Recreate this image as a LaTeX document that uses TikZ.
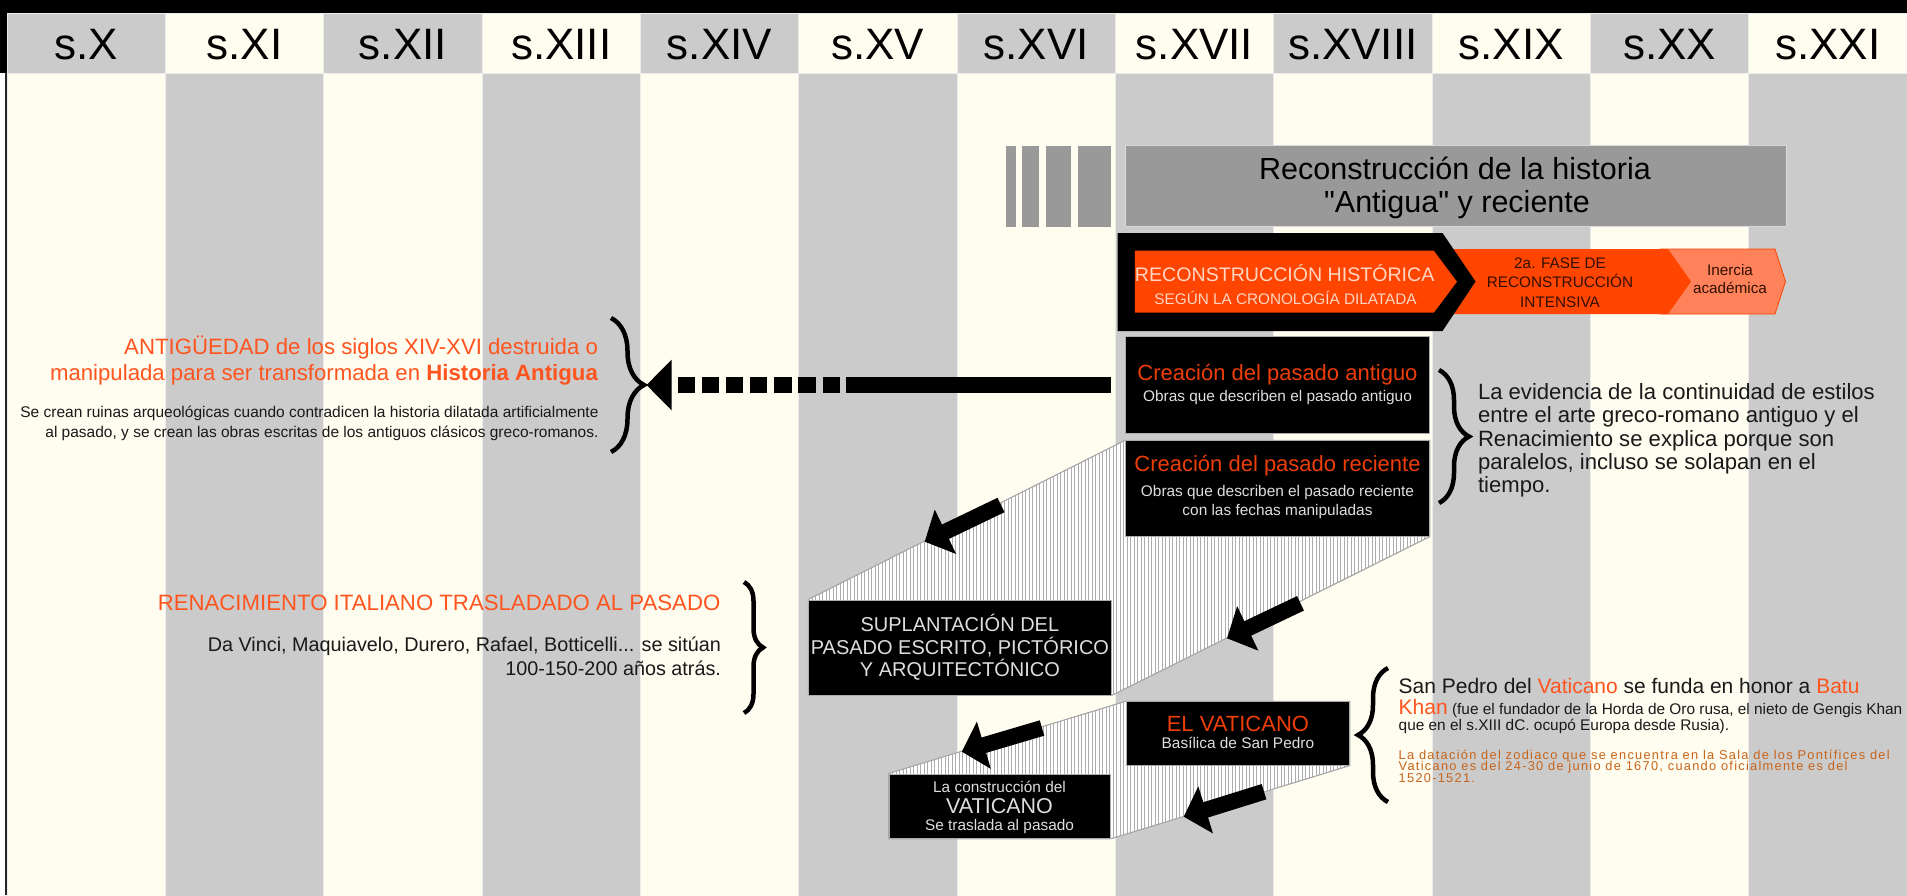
\documentclass[tikz,border=0pt]{standalone}
\usepackage{fontspec}
\setmainfont{Liberation Sans}[Ligatures=TeXOff]
\newfontfamily\spaced{Liberation Sans}[Ligatures=TeXOff,LetterSpace=10]
\usetikzlibrary{decorations.pathreplacing,arrows.meta,patterns.meta,calc}
\definecolor{cgrey}{RGB}{203,203,203}
\definecolor{ccream}{RGB}{255,252,240}
\definecolor{csep}{RGB}{236,236,236}
\definecolor{cbar}{RGB}{153,153,153}
\definecolor{corange}{RGB}{255,69,0}
\definecolor{clight}{RGB}{255,130,90}
\definecolor{cred}{RGB}{238,62,8}
\definecolor{ctext}{RGB}{255,84,30}
\definecolor{cpink}{RGB}{255,214,196}
\definecolor{cbrown}{RGB}{200,100,25}
\definecolor{csub}{RGB}{222,222,222}
\definecolor{cdark}{RGB}{25,25,25}
\definecolor{cmaroon}{RGB}{50,15,0}
\newcommand\fsz[1]{\fontsize{#1}{#1}\selectfont}
\begin{document}
\begin{tikzpicture}[x=1pt,y=-1pt,
  tx/.style={inner sep=0pt,outer sep=0pt,anchor=base},
  txl/.style={tx,anchor=base west},
  txr/.style={tx,anchor=base east},
  blackbox/.style={fill=black,draw=gray!65,line width=1pt,inner sep=0pt},
  band/.style={fill=white,draw=gray!70,line width=0.8pt},
  hatch/.style={pattern={Lines[angle=90,distance=3.5pt,line width=0.6pt]},pattern color=gray!65},
  bigarrow/.style={line width=16pt,-{Triangle[length=23pt,width=48pt]}},
  brc/.style={decorate,decoration={brace,amplitude=#1},line width=4.5pt},
  greybar/.style={fill=cbar,draw=gray!30,line width=0.8pt,inner sep=0pt},
]
\useasboundingbox (0,0) rectangle (1907,895);
% ---------- frame and columns
\fill[black] (0,0) rectangle (1907,13);
\fill[black] (0,13) rectangle (7,73);
\fill[white] (0,73) rectangle (7,895);
\foreach \lab [count=\i from 0] in {X,XI,XII,XIII,XIV,XV,XVI,XVII,XVIII,XIX,XX,XXI}{
  \pgfmathsetmacro\xa{7+158.333*\i}
  \pgfmathsetmacro\xb{\xa+158.333}
  \pgfmathsetmacro\xc{\xa+79.167}
  \ifodd\i\relax
    \def\hc{ccream}\def\bc{cgrey}
  \else
    \def\hc{cgrey}\def\bc{ccream}
  \fi
  \path[fill=\hc,draw=csep,line width=1pt] (\xa,13) rectangle (\xb,73);
  \path[fill=\bc,draw=csep,line width=1pt] (\xa,73) rectangle (\xb,896);
  \node[tx,font=\fsz{44}] (h\i) at (\xc,59) {s.\lab};
}
\draw[line width=2pt,black!85] (6,73) -- (6,895);
% ---------- grey title bar
\fill[cbar] (1006,145.7) rectangle (1016,226.7);
\fill[cbar] (1022,145.7) rectangle (1039,226.7);
\fill[cbar] (1046,145.7) rectangle (1071,226.7);
\fill[cbar] (1078,145.7) rectangle (1111,226.7);
\node[greybar,minimum width=661pt,minimum height=81pt] (bar) at (1456,186.2) {};
\node[tx,font=\fsz{30.5}] (bar1) at (1455,179.5) {Reconstrucción de la historia};
\node[tx,font=\fsz{30.5}] (bar2) at (1457,212) {"Antigua" y reciente};
% ---------- chevrons
\filldraw[fill=clight,draw=corange,line width=0.8pt] (1660,249) -- (1775,249) -- (1785.5,281.5) -- (1775,314) -- (1660,314) -- cycle;
\fill[corange] (1440,249) -- (1668,249) -- (1691,281.5) -- (1668,314) -- (1440,314) -- cycle;
\fill[black] (1117.7,233) -- (1442.5,233) -- (1475.5,281.5) -- (1442.5,331) -- (1117.7,331) -- cycle;
\fill[corange] (1134.8,250.7) -- (1433.8,250.7) -- (1457,281.7) -- (1433.8,312.7) -- (1134.8,312.7) -- cycle;
\node[tx,font=\fsz{19.6},text=cpink] (rh1) at (1284.7,281.7) {RECONSTRUCCIÓN HISTÓRICA};
\node[tx,font=\fsz{15.3},text=cpink] (rh2) at (1285.5,304) {SEGÚN LA CRONOLOGÍA DILATADA};
\node[tx,font=\fsz{15.3},text=cmaroon] (fa1) at (1560,268) {2a. FASE DE};
\node[tx,font=\fsz{15.3},text=cmaroon] (fa2) at (1560,287.5) {RECONSTRUCCIÓN};
\node[tx,font=\fsz{15.3},text=cmaroon] (fa3) at (1560,307) {INTENSIVA};
\node[tx,font=\fsz{15.3},text=cmaroon] (in1) at (1730,275) {Inercia};
\node[tx,font=\fsz{15.3},text=cmaroon] (in2) at (1730,293.3) {académica};
% ---------- boxes (placed first to name them)
\node[blackbox,minimum width=303.7pt,minimum height=96.6pt] (antiguo) at (1277.5,385) {};
\node[blackbox,minimum width=303.7pt,minimum height=95.3pt] (reciente) at (1277.5,488.4) {};
\node[blackbox,minimum width=302.3pt,minimum height=95pt] (supl) at (959.9,647.5) {};
\node[blackbox,minimum width=223.2pt,minimum height=63.3pt] (vatic) at (1237.9,733.4) {};
\node[blackbox,minimum width=221pt,minimum height=64.3pt] (constr) at (999.5,806.2) {};
% ---------- hatched bands (swept between the boxes)
\path[band,postaction={hatch}] (reciente.north west) -- (reciente.north east) -- (reciente.south east) -- (supl.south east) -- (supl.south west) -- (supl.north west) -- cycle;
\path[band,postaction={hatch}] (vatic.north west) -- (vatic.north east) -- (vatic.south east) -- (constr.south east) -- (constr.south west) -- (constr.north west) -- cycle;
\draw[gray!70,line width=0.8pt] (reciente.north west) -- (supl.north west);
\draw[gray!70,line width=0.8pt] (reciente.south east) -- (supl.south east);
\draw[gray!70,line width=0.8pt] (vatic.north west) -- (constr.north west);
\draw[gray!70,line width=0.8pt] (vatic.south east) -- (constr.south east);
% boxes again over the bands
\node[blackbox,minimum width=303.7pt,minimum height=95.3pt] (reciente2) at (reciente.center) {};
\node[blackbox,minimum width=302.3pt,minimum height=95pt] (supl2) at (supl.center) {};
\node[blackbox,minimum width=223.2pt,minimum height=63.3pt] (vatic2) at (vatic.center) {};
\node[blackbox,minimum width=221pt,minimum height=64.3pt] (constr2) at (constr.center) {};
% ---------- box texts
\node[tx,font=\fsz{22},text=cred] (an1) at (1277.5,380) {Creación del pasado antiguo};
\node[tx,font=\fsz{15.4},text=csub] (an2) at (1277.5,401) {Obras que describen el pasado antiguo};
\node[tx,font=\fsz{22},text=cred] (re1) at (1277.5,471.7) {Creación del pasado reciente};
\node[tx,font=\fsz{15.4},text=csub] (re2) at (1277.5,496.7) {Obras que describen el pasado reciente};
\node[tx,font=\fsz{15.4},text=csub] (re3) at (1277.5,515) {con las fechas manipuladas};
\node[tx,font=\fsz{20},text=csub] (su1) at (959.9,631.7) {SUPLANTACIÓN DEL};
\node[tx,font=\fsz{20},text=csub] (su2) at (959.9,654.3) {PASADO ESCRITO, PICTÓRICO};
\node[tx,font=\fsz{20},text=csub] (su3) at (959.9,676) {Y ARQUITECTÓNICO};
\node[tx,font=\fsz{22},text=cred] (va1) at (1237.9,731.7) {EL VATICANO};
\node[tx,font=\fsz{15.4},text=csub] (va2) at (1237.9,748.3) {Basílica de San Pedro};
\node[tx,font=\fsz{15.4},text=csub] (co1) at (999.5,792.7) {La construcción del};
\node[tx,font=\fsz{21.5},text=csub] (co2) at (999.5,813.3) {VATICANO};
\node[tx,font=\fsz{15.4},text=csub] (co3) at (999.5,830) {Se traslada al pasado};
% ---------- big arrows
\coordinate (a1s) at (1001,505);   \coordinate (a1e) at (924.7,541.7);
\coordinate (a2s) at (1300.5,603.3); \coordinate (a2e) at (1227,638.3);
\coordinate (a3s) at (1042,728);   \coordinate (a3e) at (961.8,751.7);
\coordinate (a4s) at (1264,791.7); \coordinate (a4e) at (1183.7,816.7);
\draw[bigarrow] (a1s) -- (a1e);
\draw[bigarrow] (a2s) -- (a2e);
\draw[bigarrow] (a3s) -- (a3e);
\draw[bigarrow] (a4s) -- (a4e);
% ---------- dashed arrow to the left brace
\coordinate (dstart) at ($(antiguo.west)+(-14,0)$);
\coordinate (b1tip) at (646.5,385);
\draw[line width=16.6pt,dash pattern=on 265.4pt off 6pt on 17.2pt off 6.9pt on 17.2pt off 6.9pt on 17.2pt off 6.9pt on 17.2pt off 6.9pt on 17.2pt off 6.9pt on 17.2pt off 6.9pt on 17.2pt off 60pt,-{Triangle[length=25pt,width=49pt]}] (dstart) -- (b1tip);
% ---------- braces
\draw[brc=33] (611,318) -- (611,452);
\draw[brc=30] (1439,370) -- (1439,503);
\draw[brc=19] (744,582) -- (744,713);
\draw[brc=30] (1388,802) -- (1388,668);
% ---------- left texts
\node[txr,font=\fsz{22.2},text=ctext] (ag1) at (598,354) {ANTIGÜEDAD de los siglos XIV-XVI destruida o};
\node[txr,font=\fsz{22.2},text=ctext] (ag2) at (598,380) {manipulada para ser transformada en \textbf{Historia Antigua}};
\node[txr,font=\fsz{15.5},text=cdark] (ag3) at (598.5,417.3) {Se crean ruinas arqueológicas cuando contradicen la historia dilatada artificialmente};
\node[txr,font=\fsz{15.5},text=cdark] (ag4) at (598.5,437.3) {al pasado, y se crean las obras escritas de los antiguos clásicos greco-romanos.};
\node[txr,font=\fsz{22.2},text=ctext] (rn1) at (720.3,610.7) {RENACIMIENTO ITALIANO TRASLADADO AL PASADO};
\node[txr,font=\fsz{19.8},text=cdark] (rn2) at (721,651.7) {Da Vinci, Maquiavelo, Durero, Rafael, Botticelli... se sitúan};
\node[txr,font=\fsz{19.8},text=cdark] (rn3) at (721,675) {100-150-200 años atrás.};
% ---------- right texts
\node[txl,font=\fsz{22.1},text=cdark] (ev1) at (1478,399.5) {La evidencia de la continuidad de estilos};
\node[txl,font=\fsz{22.1},text=cdark] (ev2) at (1478,422.8) {entre el arte greco-romano antiguo y el};
\node[txl,font=\fsz{22.1},text=cdark] (ev3) at (1478,446.1) {Renacimiento se explica porque son};
\node[txl,font=\fsz{22.1},text=cdark] (ev4) at (1478,469.4) {paralelos, incluso se solapan en el};
\node[txl,font=\fsz{22.1},text=cdark] (ev5) at (1478,492.7) {tiempo.};
\node[txl,font=\fsz{21},text=cdark] (sp1) at (1398.7,693.3) {San Pedro del \textcolor{ctext}{Vaticano} se funda en honor a \textcolor{ctext}{Batu}};
\node[txl,font=\fsz{15.4},text=cdark] (sp2) at (1398.7,714) {{\fsz{21}\textcolor{ctext}{Khan}} (fue el fundador de la Horda de Oro rusa, el nieto de Gengis Khan};
\node[txl,font=\fsz{15.4},text=cdark] (sp3) at (1398.7,730) {que en el s.XIII dC. ocupó Europa desde Rusia).};
\node[txl,font={\spaced\fsz{12.8}},text=cbrown] (zd1) at (1398.7,759.5) {La datación del zodiaco que se encuentra en la Sala de los Pontífices del};
\node[txl,font={\spaced\fsz{12.8}},text=cbrown] (zd2) at (1398.7,770.8) {Vaticano es del 24-30 de junio de 1670, cuando oficialmente es del};
\node[txl,font={\spaced\fsz{12.8}},text=cbrown] (zd3) at (1398.7,782.1) {1520-1521.};
\end{tikzpicture}
\end{document}
